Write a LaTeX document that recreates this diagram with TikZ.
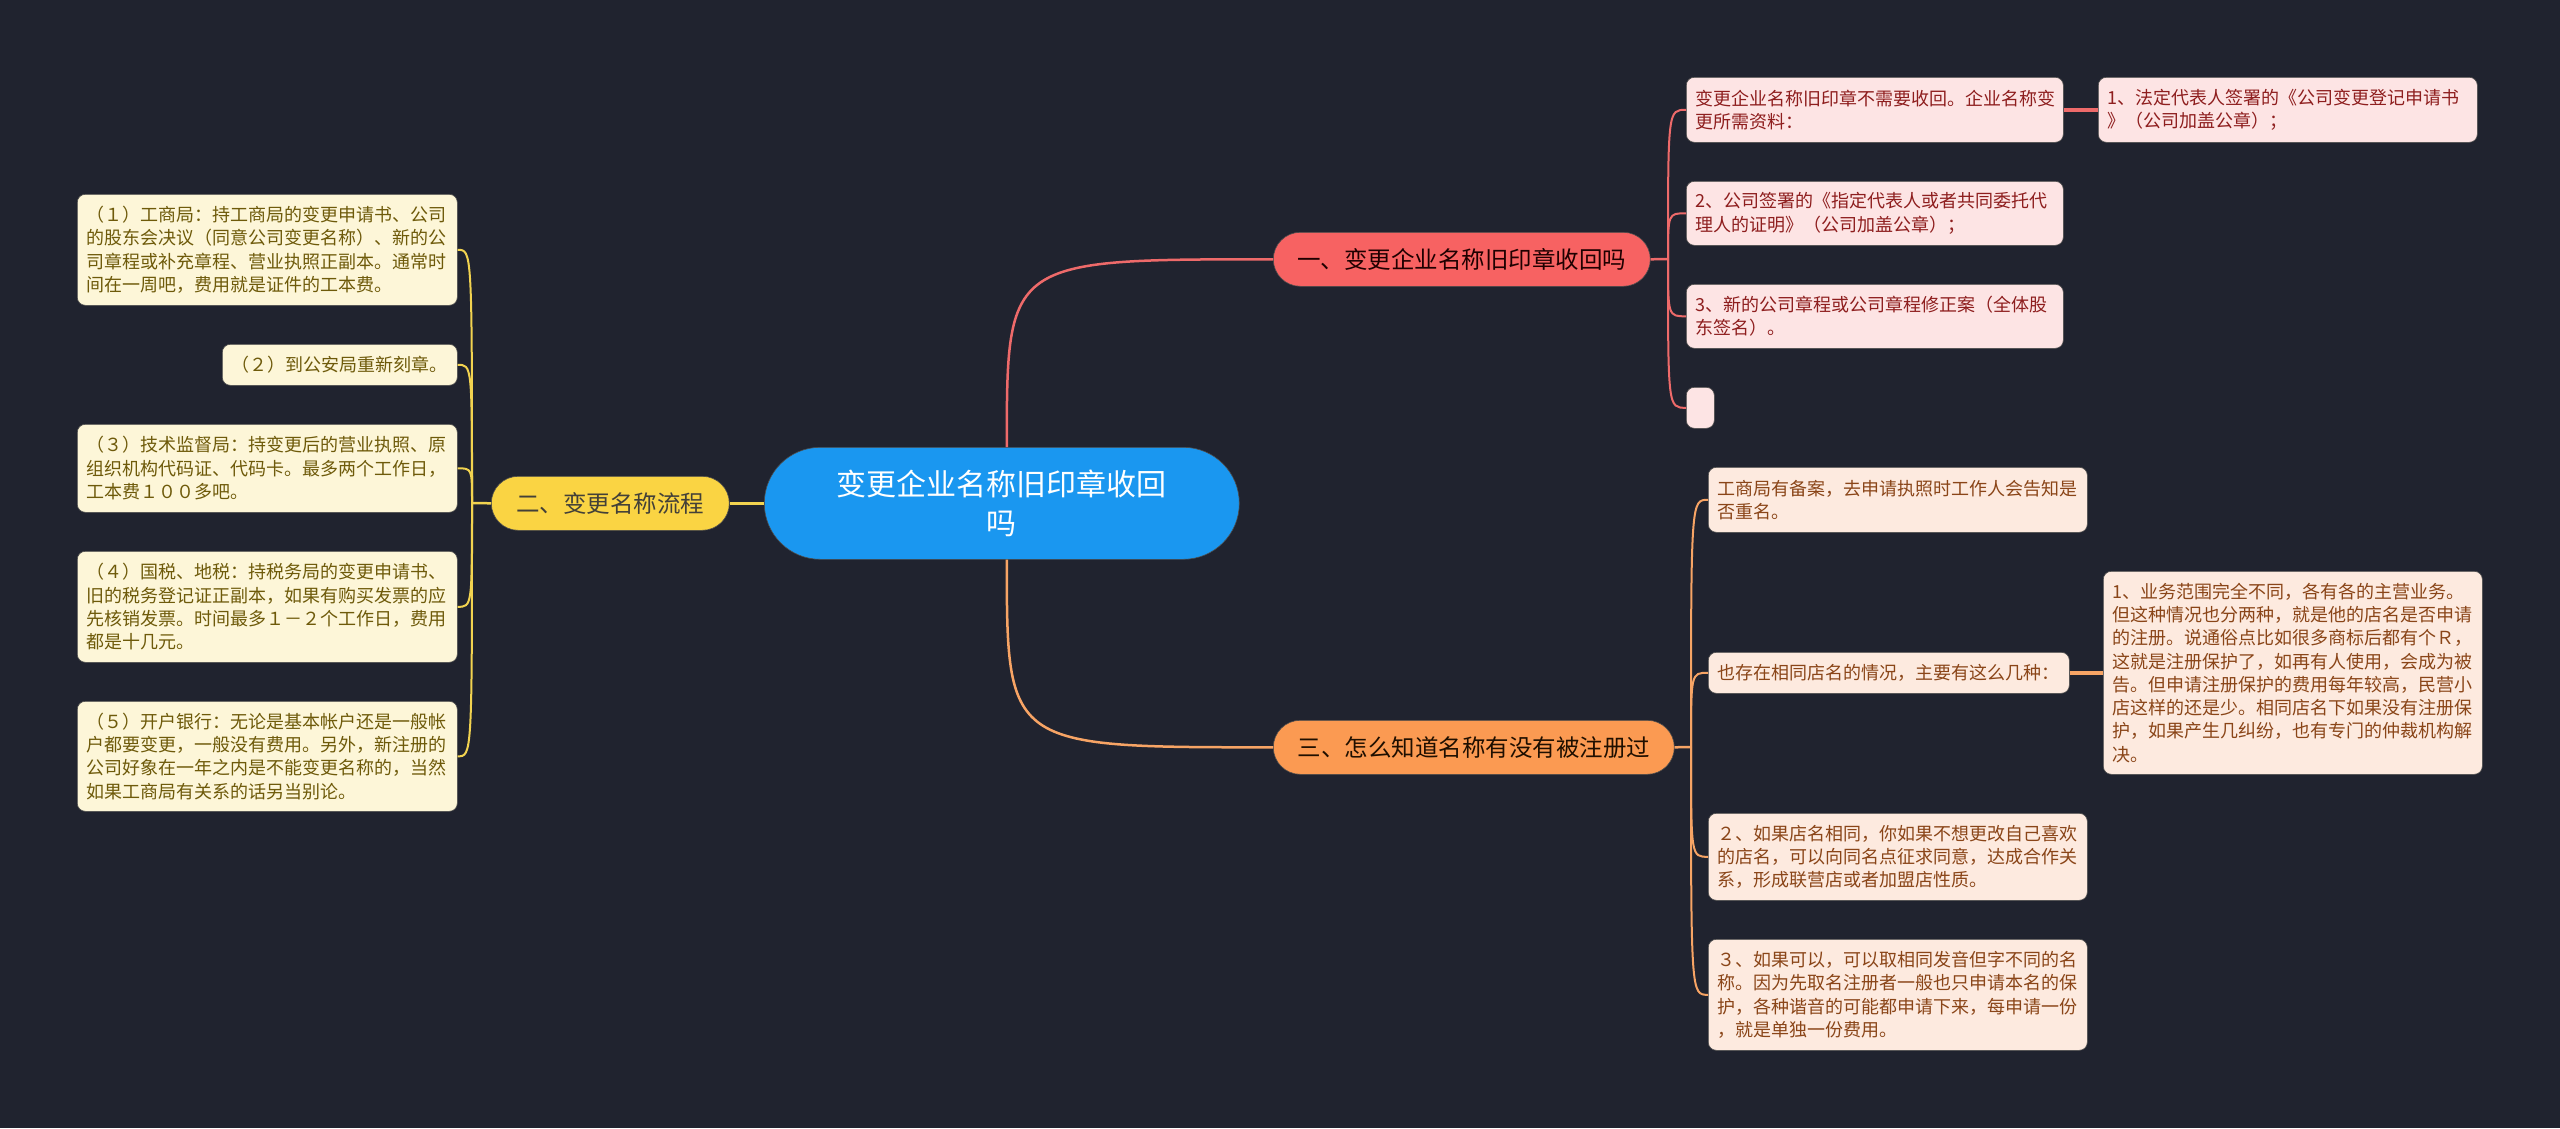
\documentclass[tikz,border=0pt]{standalone}
\usepackage{fontspec}
\setmainfont{Noto Sans CJK SC}
\usetikzlibrary{calc}
\definecolor{bg}{HTML}{20232F}
\definecolor{cblue}{HTML}{1A97F0}
\definecolor{cred}{HTML}{F76262}
\definecolor{cyel}{HTML}{FAD443}
\definecolor{corg}{HTML}{FB9A52}
\definecolor{lred}{HTML}{EE6A6A}
\definecolor{lyel}{HTML}{F2D350}
\definecolor{lorg}{HTML}{F7A465}
\definecolor{fpink}{HTML}{FDE4E4}
\definecolor{fcream}{HTML}{FDF6D8}
\definecolor{fpeach}{HTML}{FDEADF}
\definecolor{tred}{HTML}{8E1E1E}
\definecolor{tyel}{HTML}{6E5A0A}
\definecolor{torg}{HTML}{8A4518}
\begin{document}
\begin{tikzpicture}[x=1pt,y=-1pt,
  box/.style={anchor=north west, rounded corners=8pt, align=left, inner xsep=9pt, inner ysep=0pt,
     font=\fontsize{18}{23.3}\selectfont, draw=black!70, line width=0.6pt},
  pbox/.style={box, fill=fpink, text=tred},
  ybox/.style={box, fill=fcream, text=tyel},
  obox/.style={box, fill=fpeach, text=torg},
  branch/.style={anchor=north west, rounded corners=27pt, align=center, inner sep=0pt,
     font=\fontsize{23.5}{28}\selectfont, draw=black!70, line width=0.6pt},
  rline/.style={draw=lred, line width=2.5pt},
  yline/.style={draw=lyel, line width=2.5pt},
  oline/.style={draw=lorg, line width=2.5pt}
]
\fill[bg] (0,0) rectangle (2560,1128);
\useasboundingbox (0,0) rectangle (2560,1128);

% central node
\node[anchor=north west, fill=cblue, text=white, rounded corners=56pt, minimum width=475pt, minimum height=112pt,
      align=center, inner sep=0pt, font=\fontsize{30}{39}\selectfont, draw=black!70, line width=0.6pt]
  (root) at (764,447) {变更企业名称旧印章收回\\吗};

% branches
\node[branch, fill=cred, text=black!80!red!60!black, minimum width=377pt, minimum height=54pt] (r1) at (1273,232) {一、变更企业名称旧印章收回吗};
\node[branch, fill=cyel, text=black!85!yellow, minimum width=238pt, minimum height=54pt] (l2) at (491,476) {二、变更名称流程};
\node[branch, fill=corg, text=black!80!orange!60!black, minimum width=401pt, minimum height=54pt] (r3) at (1273,720) {三、怎么知道名称有没有被注册过};

% branch 1 children
\node[pbox, text width=359pt, minimum height=65pt] (a1) at (1686,77) {变更企业名称旧印章不需要收回。企业名称变\\更所需资料：};
\node[pbox, text width=361pt, minimum height=65pt] (a1c) at (2098,77) {1、法定代表人签署的《公司变更登记申请书\\》（公司加盖公章）；};
\node[pbox, text width=359pt, minimum height=64pt] (a2) at (1686,181) {2、公司签署的《指定代表人或者共同委托代\\理人的证明》（公司加盖公章）；};
\node[pbox, text width=359pt, minimum height=64pt] (a3) at (1686,284) {3、新的公司章程或公司章程修正案（全体股\\东签名）。};
\node[pbox, inner xsep=0pt, minimum width=28pt, minimum height=41pt] (a4) at (1686,387) {};

% branch 2 children
\node[ybox, text width=362pt, minimum height=111pt] (b1) at (77,194) {（１）工商局：持工商局的变更申请书、公司\\的股东会决议（同意公司变更名称）、新的公\\司章程或补充章程、营业执照正副本。通常时\\间在一周吧，费用就是证件的工本费。};
\node[ybox, text width=217pt, minimum height=41pt] (b2) at (222,344) {（２）到公安局重新刻章。};
\node[ybox, text width=362pt, minimum height=88pt] (b3) at (77,424) {（３）技术监督局：持变更后的营业执照、原\\组织机构代码证、代码卡。最多两个工作日，\\工本费１００多吧。};
\node[ybox, text width=362pt, minimum height=111pt] (b4) at (77,551) {（４）国税、地税：持税务局的变更申请书、\\旧的税务登记证正副本，如果有购买发票的应\\先核销发票。时间最多１－２个工作日，费用\\都是十几元。};
\node[ybox, text width=362pt, minimum height=110pt] (b5) at (77,701) {（５）开户银行：无论是基本帐户还是一般帐\\户都要变更，一般没有费用。另外，新注册的\\公司好象在一年之内是不能变更名称的，当然\\如果工商局有关系的话另当别论。};

% branch 3 children
\node[obox, text width=361pt, minimum height=65pt] (c1) at (1708,467) {工商局有备案，去申请执照时工作人会告知是\\否重名。};
\node[obox, text width=343pt, minimum height=41pt] (c2) at (1708,652) {也存在相同店名的情况，主要有这么几种：};
\node[obox, text width=361pt, minimum height=203pt] (c2c) at (2103,571) {1、业务范围完全不同，各有各的主营业务。\\但这种情况也分两种，就是他的店名是否申请\\的注册。说通俗点比如很多商标后都有个Ｒ，\\这就是注册保护了，如再有人使用，会成为被\\告。但申请注册保护的费用每年较高，民营小\\店这样的还是少。相同店名下如果没有注册保\\护，如果产生几纠纷，也有专门的仲裁机构解\\决。};
\node[obox, text width=361pt, minimum height=87pt] (c3) at (1708,813) {２、如果店名相同，你如果不想更改自己喜欢\\的店名，可以向同名点征求同意，达成合作关\\系，形成联营店或者加盟店性质。};
\node[obox, text width=361pt, minimum height=111pt] (c4) at (1708,939) {３、如果可以，可以取相同发音但字不同的名\\称。因为先取名注册者一般也只申请本名的保\\护，各种谐音的可能都申请下来，每申请一份\\，就是单独一份费用。};

% connectors: root to branches
\coordinate (rt) at ($(root.north)+(5,0)$);
\coordinate (rb) at ($(root.south)+(5,0)$);
\draw[rline] (rt) .. controls (rt |- r1.west) .. (r1.west);
\draw[oline] (rb) .. controls (rb |- r3.west) .. (r3.west);
\draw[yline] (root.west) -- (l2.east);

% branch 1 tree
\coordinate (t1) at (1668,259);
\draw[rline] (r1.east) -- (t1);
\foreach \n in {a1,a2,a3,a4}{
  \draw[rline, line width=2pt] (t1) .. controls (t1 |- \n.west) .. (\n.west);
}
\draw[rline, line width=4pt] (a1.east) -- (a1c.west);

% branch 2 tree
\coordinate (t2) at (472,503);
\draw[yline] (l2.west) -- (t2);
\foreach \n in {b1,b2,b3,b4,b5}{
  \draw[yline, line width=2pt] (t2) .. controls (t2 |- \n.east) .. (\n.east);
}

% branch 3 tree
\coordinate (t3) at (1691,747);
\draw[oline] (r3.east) -- (t3);
\foreach \n in {c1,c2,c3,c4}{
  \draw[oline, line width=2pt] (t3) .. controls (t3 |- \n.west) .. (\n.west);
}
\draw[oline, line width=4pt] (c2.east) -- (c2c.west);
\end{tikzpicture}
\end{document}
